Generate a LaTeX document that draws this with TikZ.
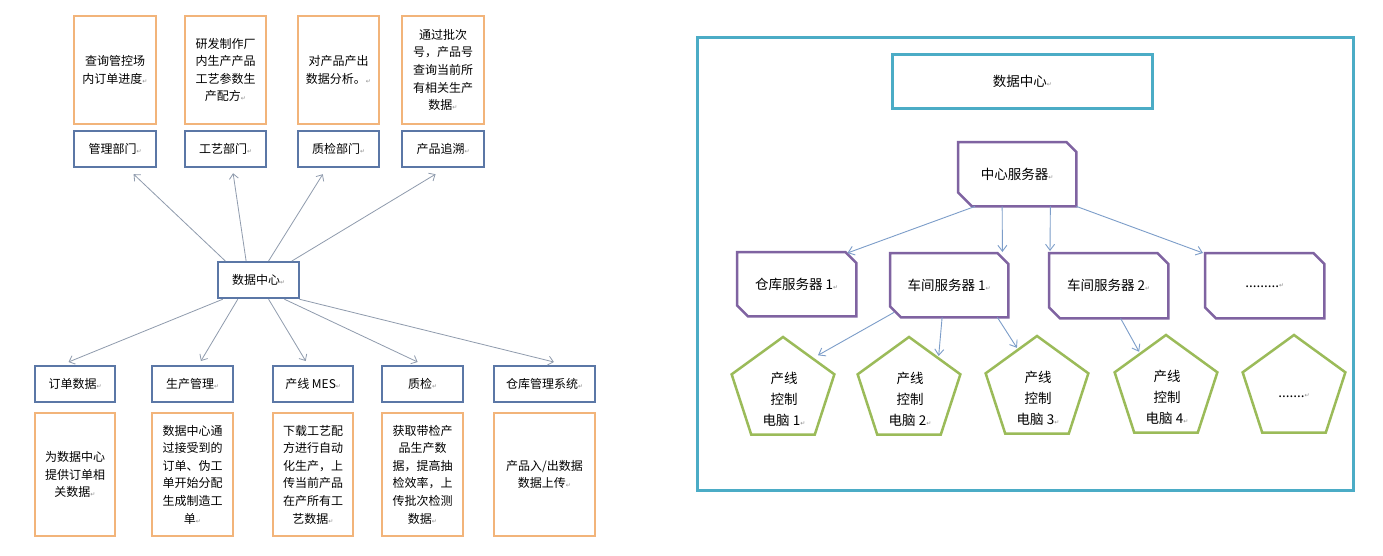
\documentclass[tikz,border=0pt]{standalone}
\usepackage{fontspec}
\setmainfont{Noto Sans CJK SC}
\newfontfamily\djv{DejaVu Sans}
\usetikzlibrary{calc,shapes.geometric,arrows.meta}
\definecolor{obord}{HTML}{F2B47A}
\definecolor{bbord}{HTML}{5B77A6}
\definecolor{garr}{HTML}{8F9BAD}
\definecolor{tealb}{HTML}{4BACC6}
\definecolor{purp}{HTML}{7F63A1}
\definecolor{grn}{HTML}{9BBB59}
\definecolor{barr}{HTML}{7C9DC9}
\newcommand\parmark{{\djv\fontsize{6}{6}\selectfont\color{black!45}↵}}
\newcommand\snipout[3]{\draw[svline] (#1.north west) -- ($(#1.north east)+(-#2,0)$) -- ($(#1.north east)+(0,#2)$) -- (#1.south east) -- ($(#1.south west)+(#3,0)$) -- ($(#1.south west)+(0,-#3)$) -- cycle;}
\begin{document}
\begin{tikzpicture}[x=1pt,y=-1pt,
 ob/.style={draw=obord,line width=2pt,rectangle,anchor=north west,inner sep=0pt,align=center,font=\fontsize{12}{17.6}\selectfont},
 bb/.style={draw=bbord,line width=2.2pt,rectangle,anchor=north west,inner sep=0pt,align=center,font=\fontsize{12}{14}\selectfont},
 garrow/.style={draw=garr,line width=0.8pt,-{Straight Barb[length=5pt,width=9pt]}},
 barrow/.style={draw=barr,line width=0.9pt,-{Straight Barb[length=6pt,width=9pt]}},
 tb/.style={draw=tealb,line width=2.5pt,rectangle,anchor=north west,inner sep=0pt,align=center,font=\fontsize{13.5}{16}\selectfont},
 sv/.style={rectangle,draw=none,anchor=north west,inner sep=0pt,align=center,font=\fontsize{13.5}{16}\selectfont},
 svline/.style={draw=purp,line width=2.5pt,line join=miter},
 pent/.style={regular polygon,regular polygon sides=5,minimum size=108pt,draw=grn,line width=2.5pt,inner sep=0pt},
 ptxt/.style={align=center,font=\fontsize{13.5}{21}\selectfont,inner sep=0pt}
]
\useasboundingbox (0,0) rectangle (1383,555);
\fill[white] (0,0) rectangle (1383,555);

% ---------- left diagram ----------
\node[ob,minimum width=82pt,minimum height=108pt] (o1) at (73,15) {查询管控场\\内订单进度\parmark};
\node[ob,minimum width=81pt,minimum height=108pt] (o2) at (184,15) {研发制作厂\\内生产产品\\工艺参数生\\产配方\parmark};
\node[ob,minimum width=81pt,minimum height=108pt] (o3) at (297,15) {对产品产出\\数据分析。\parmark};
\node[ob,minimum width=82pt,minimum height=108pt] (o4) at (401,15) {通过批次\\号，产品号\\查询当前所\\有相关生产\\数据\parmark};

\node[bb,minimum width=82pt,minimum height=36pt] (m1) at (73,130) {管理部门\parmark};
\node[bb,minimum width=81pt,minimum height=36pt] (m2) at (184,130) {工艺部门\parmark};
\node[bb,minimum width=81pt,minimum height=36pt] (m3) at (297,130) {质检部门\parmark};
\node[bb,minimum width=82pt,minimum height=36pt] (m4) at (401,130) {产品追溯\parmark};

\node[bb,minimum width=81pt,minimum height=36pt] (dc) at (217,261) {数据中心\parmark};

\node[bb,minimum width=80pt,minimum height=36pt] (b1) at (34,365) {订单数据\parmark};
\node[bb,minimum width=81pt,minimum height=36pt] (b2) at (151,365) {生产管理\parmark};
\node[bb,minimum width=80pt,minimum height=36pt] (b3) at (272,365) {产线 MES\parmark};
\node[bb,minimum width=81pt,minimum height=36pt] (b4) at (381,365) {质检\parmark};
\node[bb,minimum width=101pt,minimum height=36pt] (b5) at (493,365) {仓库管理系统\parmark};

\node[ob,minimum width=80pt,minimum height=123pt] (d1) at (34,412) {为数据中心\\提供订单相\\关数据\parmark};
\node[ob,minimum width=81pt,minimum height=123pt] (d2) at (151,412) {数据中心通\\过接受到的\\订单、伪工\\单开始分配\\生成制造工\\单\parmark};
\node[ob,minimum width=80pt,minimum height=123pt] (d3) at (272,412) {下载工艺配\\方进行自动\\化生产，上\\传当前产品\\在产所有工\\艺数据\parmark};
\node[ob,minimum width=81pt,minimum height=123pt] (d4) at (381,412) {获取带检产\\品生产数\\据，提高抽\\检效率，上\\传批次检测\\数据\parmark};
\node[ob,minimum width=101pt,minimum height=123pt] (d5) at (493,412) {产品入/出数据\\数据上传\parmark};

% arrows up
\draw[garrow] ($(dc.north west)!0.10!(dc.north east)$) -- ($(m1.south west)!0.72!(m1.south east)+(0,6)$);
\draw[garrow] ($(dc.north west)!0.35!(dc.north east)$) -- ($(m2.south west)!0.59!(m2.south east)+(0,5)$);
\draw[garrow] ($(dc.north west)!0.62!(dc.north east)$) -- ($(m3.south west)!0.31!(m3.south east)+(0,6)$);
\draw[garrow] ($(dc.north west)!0.90!(dc.north east)$) -- ($(m4.south west)!0.41!(m4.south east)+(0,6)$);
% arrows down
\draw[garrow] ($(dc.south west)!0.07!(dc.south east)$) -- ($(b1.north west)!0.42!(b1.north east)+(0,-3)$);
\draw[garrow] ($(dc.south west)!0.25!(dc.south east)$) -- ($(b2.north west)!0.60!(b2.north east)+(0,-4)$);
\draw[garrow] ($(dc.south west)!0.62!(dc.south east)$) -- ($(b3.north west)!0.41!(b3.north east)+(0,-4)$);
\draw[garrow] ($(dc.south west)!0.81!(dc.south east)$) -- ($(b4.north west)!0.44!(b4.north east)+(0,-3)$);
\draw[garrow] ($(dc.south west)!0.99!(dc.south east)$) -- ($(b5.north west)!0.59!(b5.north east)+(0,-3)$);

% ---------- right diagram ----------
\node[tb,minimum width=656pt,minimum height=453pt] (frame) at (696,36) {};
\node[tb,minimum width=260pt,minimum height=54pt] (rdc) at (891,53) {数据中心\parmark};

\node[sv,minimum width=118pt,minimum height=64pt] (cs) at (958,142) {中心服务器\parmark};
\node[sv,minimum width=119pt,minimum height=64pt] (ws1) at (737,252) {仓库服务器 1\parmark};
\node[sv,minimum width=118pt,minimum height=64pt] (s1) at (890,253) {车间服务器 1\parmark};
\node[sv,minimum width=119pt,minimum height=65pt] (s2) at (1049,253) {车间服务器 2\parmark};
\node[sv,minimum width=119pt,minimum height=65pt] (s3) at (1205,253) {.........\parmark};
\snipout{cs}{10}{14}
\snipout{ws1}{11}{11}
\snipout{s1}{11}{11}
\snipout{s2}{11}{11}
\snipout{s3}{11}{11}

\node[pent] (p1) at (783,391) {};
\node[pent] (p2) at (909,391) {};
\node[pent] (p3) at (1037,390) {};
\node[pent] (p4) at (1166,389) {};
\node[pent] (p5) at (1294,389) {};
\node[ptxt] (p1t) at ($(p1)+(1,8)$) {产线\\控制\\电脑 1\parmark};
\node[ptxt] (p2t) at ($(p2)+(1,8)$) {产线\\控制\\电脑 2\parmark};
\node[ptxt] (p3t) at ($(p3)+(1,8)$) {产线\\控制\\电脑 3\parmark};
\node[ptxt] (p4t) at ($(p4)+(1,8)$) {产线\\控制\\电脑 4\parmark};
\node[ptxt] (p5t) at ($(p5)+(0,7)$) {.......\parmark};

% blue arrows
\draw[barrow] ($(cs.south west)!0.144!(cs.south east)$) -- ($(ws1.north east)+(-9,1)$);
\draw[barrow] ($(cs.south west)!0.373!(cs.south east)$) -- ($(s1.north east)+(-6,-1)$);
\draw[barrow] ($(cs.south west)!0.78!(cs.south east)$) -- ($(s2.north west)+(1,-2)$);
\draw[barrow] (cs.south east) -- ($(s3.north west)+(-2,0)$);

\draw[barrow,shorten >=5pt] ($(s1.south west)+(4,-5)$) -- ($(p1.corner 1)!0.58!(p1.corner 5)$);
\draw[barrow,shorten >=1pt] ($(s1.south west)!0.44!(s1.south east)$) -- ($(p2.corner 1)!0.56!(p2.corner 5)$);
\draw[barrow,shorten >=1pt] ($(s1.south west)!0.907!(s1.south east)$) -- ($(p3.corner 1)!0.37!(p3.corner 2)$);
\draw[barrow,shorten >=1pt] ($(s2.south west)!0.6!(s2.south east)$) -- ($(p4.corner 1)!0.5!(p4.corner 2)$);
\end{tikzpicture}
\end{document}
